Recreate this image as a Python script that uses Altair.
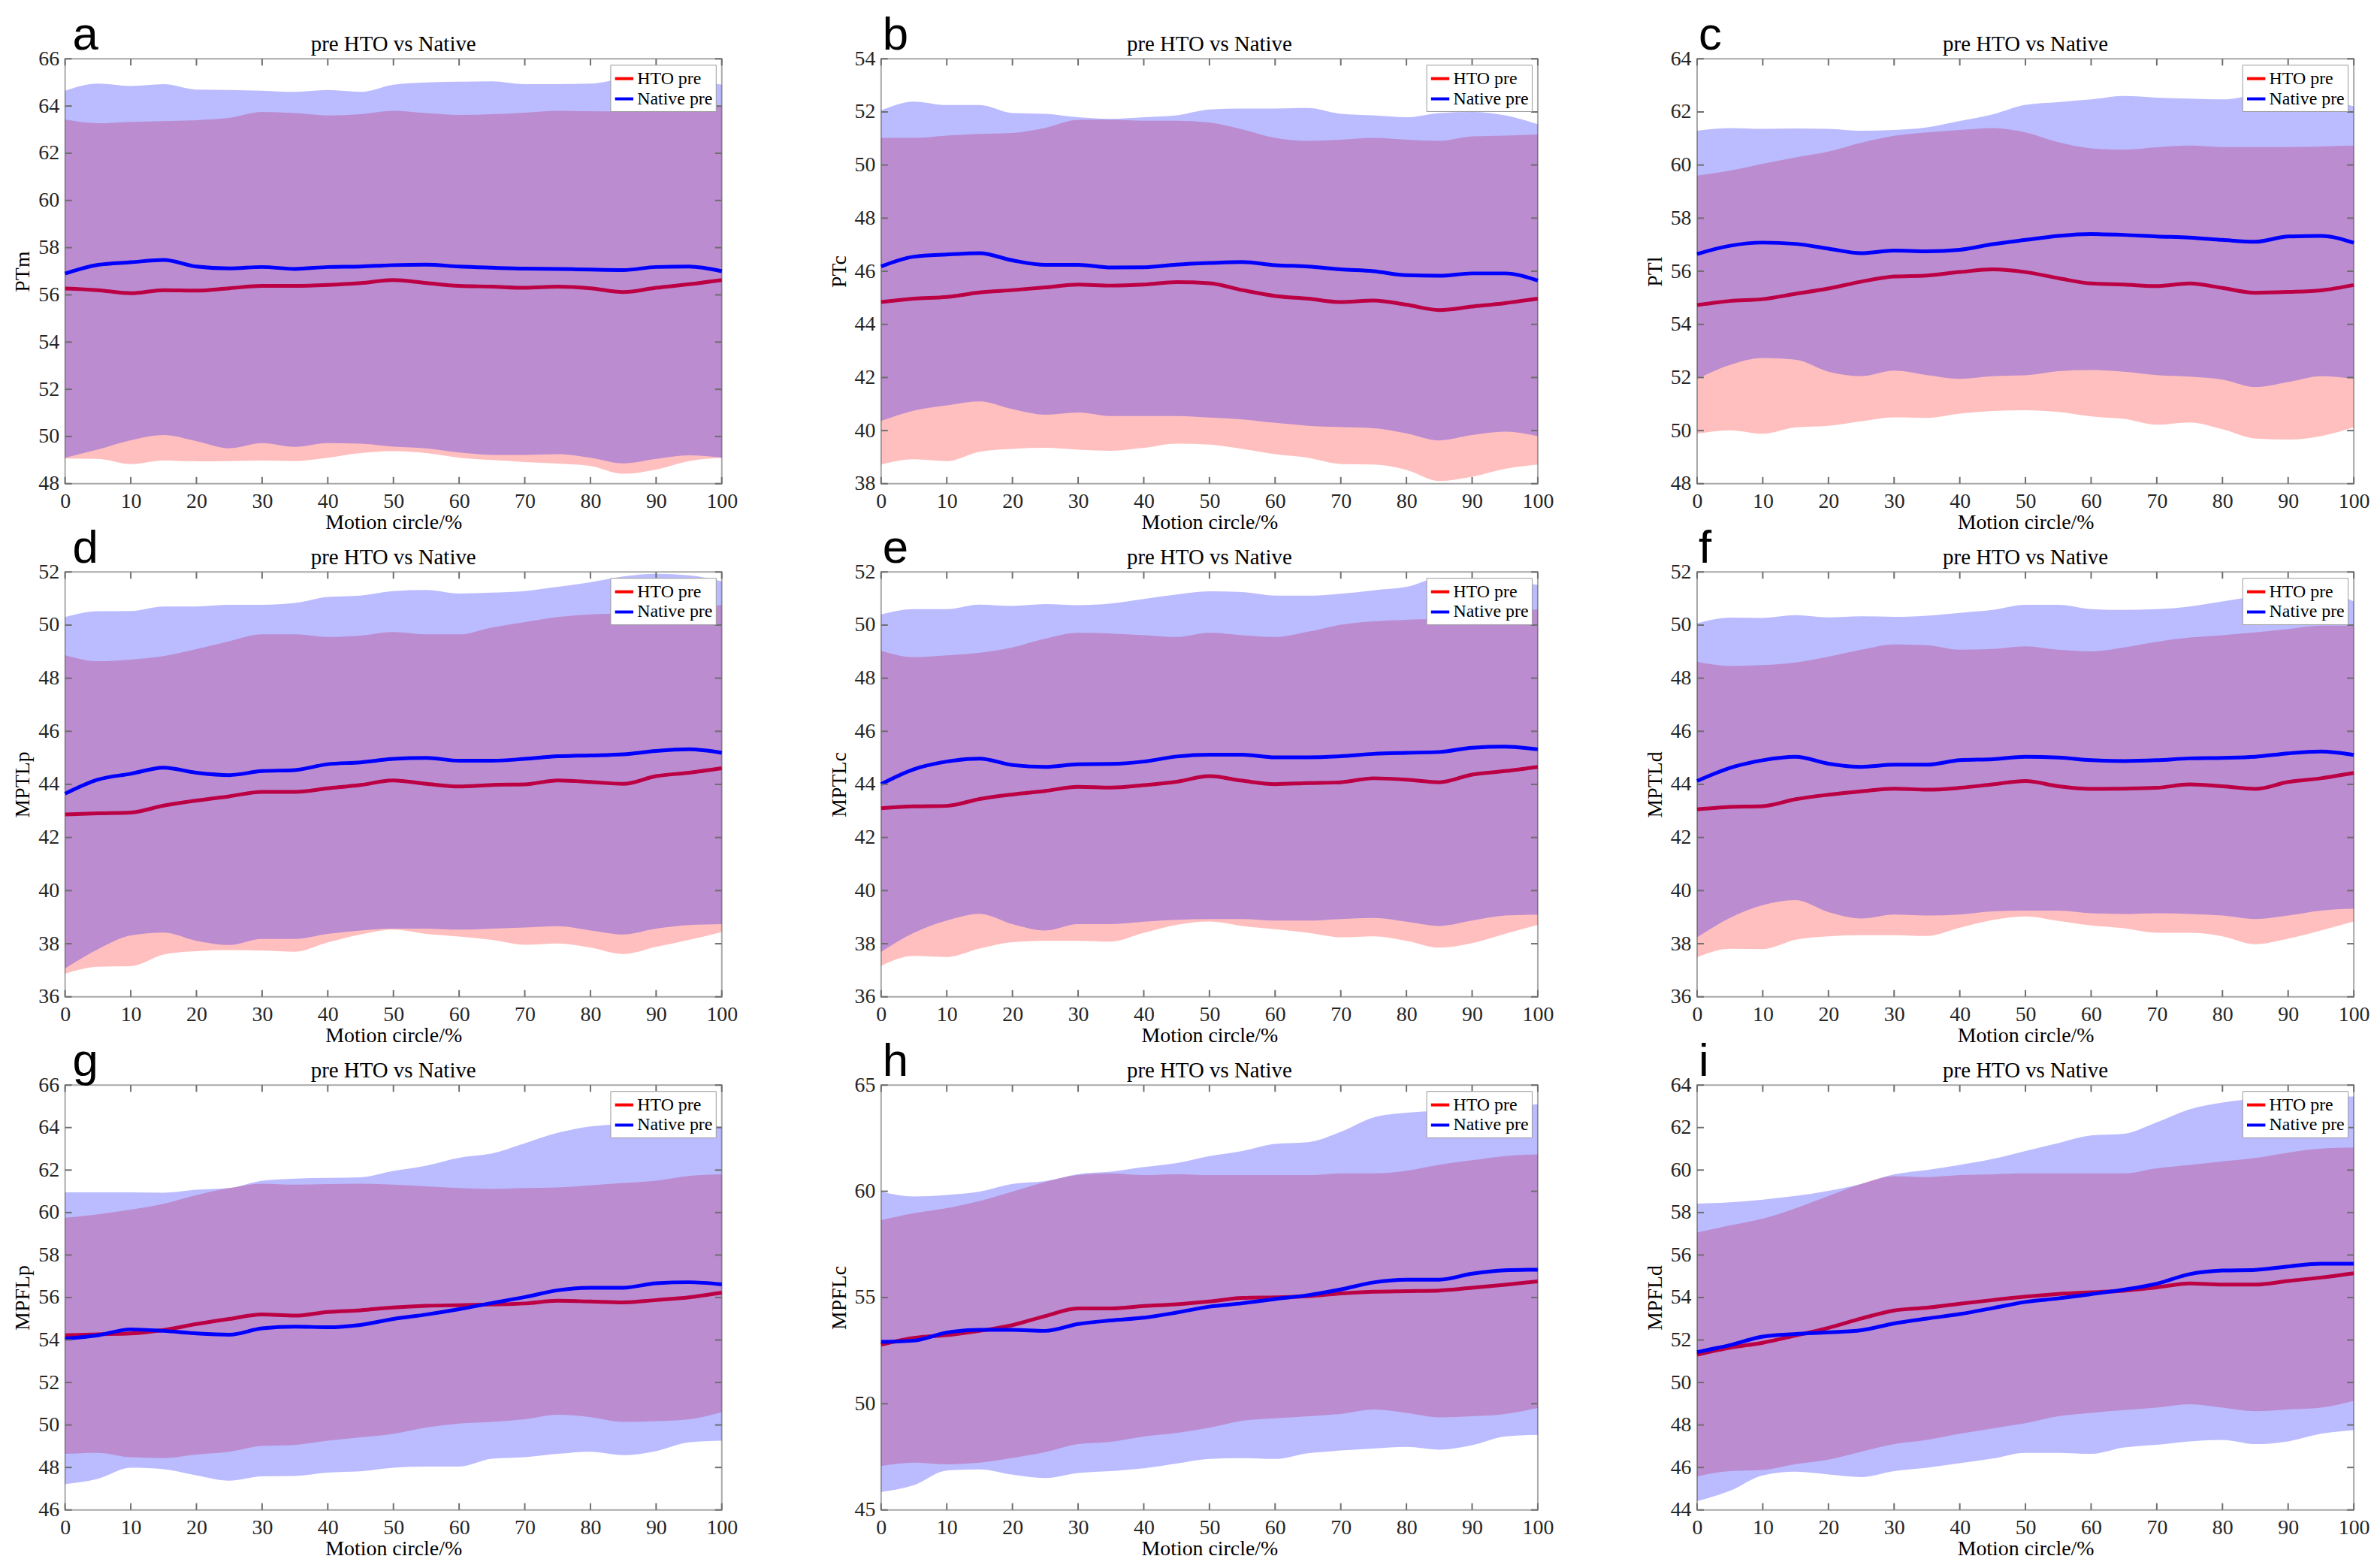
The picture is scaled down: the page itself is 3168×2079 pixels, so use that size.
import altair as alt
import pandas as pd

# ---------------- data ----------------
X = list(range(0, 101, 5))

# a : PTm
A_HTO_MEAN = [56.27,56.20,56.07,56.20,56.18,56.28,56.38,56.38,56.42,56.50,56.63,56.50,56.38,56.35,56.30,56.35,56.28,56.12,56.30,56.45,56.63]
A_HTO_LO   = [49.07,49.05,48.83,48.98,48.95,48.96,48.98,48.96,49.10,49.30,49.38,49.30,49.10,49.00,48.92,48.85,48.75,48.42,48.60,48.96,49.10]
A_HTO_UP   = [63.43,63.27,63.33,63.36,63.40,63.50,63.75,63.70,63.60,63.65,63.80,63.70,63.62,63.65,63.72,63.80,63.78,63.77,63.85,63.95,64.00]
A_NAT_MEAN = [56.90,57.27,57.38,57.48,57.20,57.12,57.18,57.10,57.18,57.20,57.26,57.28,57.20,57.15,57.11,57.10,57.07,57.05,57.18,57.20,57.00]
A_NAT_LO   = [49.10,49.45,49.84,50.06,49.80,49.50,49.72,49.56,49.72,49.70,49.57,49.50,49.32,49.22,49.22,49.25,49.10,48.86,49.05,49.20,49.10]
A_NAT_UP   = [64.65,64.95,64.85,64.93,64.70,64.68,64.65,64.60,64.68,64.60,64.90,65.00,65.03,65.05,64.93,64.93,64.95,65.15,65.20,65.10,64.90]

# b : PTc
B_HTO_MEAN = [44.84,44.97,45.03,45.20,45.29,45.39,45.50,45.46,45.50,45.59,45.55,45.29,45.07,44.97,44.84,44.90,44.74,44.54,44.67,44.80,44.97]
B_HTO_LO   = [38.72,38.92,38.85,39.20,39.31,39.35,39.28,39.24,39.35,39.51,39.47,39.31,39.11,38.98,38.74,38.72,38.52,38.10,38.26,38.56,38.72]
B_HTO_UP   = [51.02,51.02,51.11,51.17,51.21,51.40,51.70,51.71,51.67,51.67,51.60,51.34,51.02,50.91,50.95,51.02,50.95,50.91,51.08,51.11,51.15]
B_NAT_MEAN = [46.18,46.55,46.63,46.68,46.41,46.24,46.24,46.14,46.15,46.25,46.31,46.35,46.23,46.18,46.07,46.00,45.85,45.83,45.92,45.92,45.65]
B_NAT_LO   = [40.36,40.75,40.95,41.10,40.81,40.60,40.68,40.55,40.55,40.55,40.49,40.42,40.29,40.18,40.13,40.09,39.90,39.63,39.83,39.96,39.79]
B_NAT_UP   = [52.06,52.39,52.26,52.26,51.96,51.93,51.80,51.74,51.80,51.87,52.09,52.13,52.13,52.15,51.93,51.87,51.80,51.96,52.00,51.87,51.54]

# c : PTl
C_HTO_MEAN = [54.73,54.88,54.95,55.15,55.35,55.61,55.80,55.84,55.97,56.07,55.97,55.74,55.54,55.50,55.44,55.54,55.37,55.19,55.22,55.28,55.48]
C_HTO_LO   = [49.88,50.01,49.88,50.12,50.18,50.35,50.50,50.48,50.64,50.74,50.77,50.70,50.53,50.44,50.22,50.31,50.05,49.70,49.66,49.79,50.12]
C_HTO_UP   = [59.60,59.79,60.05,60.29,60.51,60.84,61.10,61.23,61.32,61.39,61.23,60.86,60.63,60.58,60.67,60.73,60.68,60.68,60.68,60.70,60.73]
C_NAT_MEAN = [56.65,56.96,57.08,57.03,56.85,56.68,56.78,56.75,56.81,57.02,57.18,57.33,57.40,57.37,57.31,57.27,57.18,57.11,57.31,57.33,57.07]
C_NAT_LO   = [51.95,52.47,52.73,52.67,52.22,52.05,52.26,52.09,51.95,52.05,52.08,52.24,52.28,52.22,52.09,52.03,51.92,51.64,51.83,52.05,51.95]
C_NAT_UP   = [61.29,61.39,61.36,61.38,61.36,61.29,61.32,61.42,61.66,61.91,62.27,62.37,62.47,62.60,62.54,62.50,62.47,62.60,62.60,62.50,62.21]

# d : MPTLp
D_HTO_MEAN = [42.87,42.91,42.94,43.20,43.39,43.55,43.72,43.72,43.85,43.98,44.15,44.02,43.92,43.98,44.00,44.15,44.09,44.02,44.31,44.44,44.61]
D_HTO_LO   = [36.87,37.13,37.15,37.59,37.72,37.76,37.74,37.70,38.05,38.35,38.53,38.37,38.27,38.14,37.96,38.01,37.85,37.61,37.88,38.14,38.44]
D_HTO_UP   = [48.87,48.64,48.70,48.83,49.09,49.39,49.65,49.65,49.55,49.60,49.74,49.65,49.65,49.91,50.11,50.30,50.40,50.44,50.47,50.57,50.76]
D_NAT_MEAN = [43.65,44.18,44.40,44.63,44.44,44.35,44.50,44.54,44.76,44.83,44.96,45.00,44.89,44.89,44.96,45.06,45.09,45.13,45.26,45.32,45.19]
D_NAT_LO   = [37.07,37.79,38.31,38.42,38.11,37.95,38.18,38.18,38.37,38.50,38.57,38.57,38.53,38.57,38.61,38.66,38.50,38.35,38.57,38.70,38.74]
D_NAT_UP   = [50.30,50.52,50.53,50.70,50.70,50.76,50.76,50.83,51.06,51.11,51.28,51.32,51.19,51.22,51.28,51.44,51.61,51.83,51.93,51.87,51.65]

# e : MPTLc
E_HTO_MEAN = [43.10,43.17,43.19,43.45,43.62,43.75,43.91,43.88,43.97,44.10,44.31,44.14,44.01,44.05,44.08,44.23,44.18,44.08,44.37,44.50,44.66]
E_HTO_LO   = [37.17,37.54,37.50,37.82,38.06,38.11,38.11,38.08,38.41,38.71,38.84,38.67,38.55,38.41,38.24,38.28,38.11,37.85,38.02,38.37,38.71]
E_HTO_UP   = [49.03,48.79,48.86,48.96,49.16,49.49,49.71,49.68,49.62,49.55,49.71,49.62,49.55,49.75,50.01,50.14,50.20,50.24,50.33,50.46,50.59]
E_NAT_MEAN = [44.01,44.57,44.86,44.97,44.73,44.66,44.76,44.77,44.86,45.05,45.12,45.12,45.02,45.02,45.06,45.15,45.19,45.22,45.38,45.42,45.32]
E_NAT_LO   = [37.69,38.41,38.87,39.13,38.74,38.50,38.74,38.74,38.83,38.90,38.93,38.93,38.87,38.87,38.93,38.97,38.83,38.67,38.87,39.06,39.10]
E_NAT_UP   = [50.40,50.60,50.60,50.77,50.72,50.79,50.75,50.81,50.98,51.15,51.27,51.24,51.11,51.11,51.18,51.31,51.44,51.77,51.77,51.65,51.51]

# f : MPTLd
F_HTO_MEAN = [43.06,43.15,43.18,43.44,43.61,43.74,43.84,43.80,43.87,44.00,44.13,43.93,43.83,43.84,43.87,44.00,43.93,43.83,44.09,44.23,44.43]
F_HTO_LO   = [37.49,37.81,37.80,38.15,38.28,38.32,38.32,38.29,38.60,38.89,39.03,38.86,38.69,38.58,38.41,38.41,38.28,37.98,38.19,38.50,38.84]
F_HTO_UP   = [48.62,48.46,48.49,48.59,48.81,49.07,49.27,49.24,49.07,49.10,49.20,49.07,49.01,49.16,49.37,49.53,49.62,49.72,49.85,49.98,49.98]
F_NAT_MEAN = [44.13,44.62,44.91,45.04,44.78,44.66,44.74,44.74,44.91,44.95,45.04,45.01,44.91,44.88,44.91,44.98,45.00,45.04,45.17,45.24,45.11]
F_NAT_LO   = [38.24,38.97,39.45,39.64,39.19,38.95,39.10,39.06,39.10,39.22,39.25,39.25,39.15,39.12,39.15,39.12,39.06,38.93,39.06,39.25,39.32]
F_NAT_UP   = [50.07,50.28,50.27,50.37,50.29,50.33,50.31,50.35,50.46,50.57,50.76,50.76,50.60,50.57,50.60,50.70,50.89,51.09,51.28,51.28,50.89]

# g : MPFLp
G_HTO_MEAN = [54.22,54.27,54.31,54.47,54.75,54.99,55.20,55.15,55.32,55.40,55.53,55.61,55.64,55.67,55.72,55.85,55.81,55.77,55.88,56.01,56.23]
G_HTO_LO   = [48.64,48.69,48.48,48.44,48.61,48.74,49.01,49.06,49.26,49.42,49.58,49.88,50.07,50.15,50.27,50.48,50.37,50.15,50.18,50.27,50.60]
G_HTO_UP   = [59.76,59.92,60.14,60.41,60.82,61.15,61.36,61.31,61.34,61.36,61.31,61.23,61.15,61.11,61.15,61.18,61.28,61.39,61.50,61.72,61.80]
G_NAT_MEAN = [54.06,54.22,54.50,54.43,54.31,54.25,54.55,54.63,54.60,54.71,54.99,55.20,55.45,55.74,56.02,56.34,56.46,56.46,56.67,56.72,56.62]
G_NAT_LO   = [47.22,47.47,47.99,47.92,47.63,47.38,47.58,47.60,47.76,47.82,47.99,48.04,48.04,48.41,48.48,48.64,48.74,48.58,48.77,49.18,49.26]
G_NAT_UP   = [60.95,60.95,60.95,60.93,61.07,61.15,61.50,61.60,61.63,61.66,61.96,62.21,62.58,62.78,63.26,63.75,64.05,64.16,64.21,64.15,64.05]

# h : MPFLc
H_HTO_MEAN = [52.78,53.10,53.23,53.43,53.70,54.13,54.49,54.49,54.60,54.68,54.81,54.98,55.01,55.06,55.19,55.27,55.30,55.33,55.46,55.60,55.76]
H_HTO_LO   = [47.07,47.23,47.15,47.23,47.45,47.72,48.10,48.21,48.46,48.62,48.87,49.20,49.31,49.41,49.52,49.73,49.57,49.36,49.41,49.52,49.80]
H_HTO_UP   = [58.64,58.97,59.21,59.54,59.99,60.44,60.76,60.84,60.76,60.81,60.76,60.76,60.76,60.76,60.84,60.84,60.97,61.25,61.46,61.66,61.74]
H_NAT_MEAN = [52.91,52.97,53.35,53.48,53.48,53.43,53.75,53.92,54.05,54.29,54.57,54.73,54.93,55.11,55.38,55.71,55.84,55.84,56.12,56.28,56.31]
H_NAT_LO   = [45.85,46.17,46.86,46.91,46.66,46.50,46.74,46.83,46.96,47.18,47.40,47.44,47.40,47.67,47.80,47.89,47.97,47.84,48.05,48.46,48.54]
H_NAT_UP   = [59.99,59.76,59.83,59.99,60.35,60.48,60.81,60.92,61.14,61.33,61.66,61.90,62.23,62.31,62.80,63.48,63.70,63.81,63.94,64.00,64.10]

# i : MPFLd
I_HTO_MEAN = [51.31,51.64,51.87,52.21,52.57,53.01,53.39,53.52,53.71,53.88,54.04,54.17,54.25,54.32,54.48,54.66,54.61,54.61,54.78,54.94,55.14]
I_HTO_LO   = [45.58,45.83,45.88,46.16,46.37,46.74,47.10,47.30,47.59,47.84,48.08,48.41,48.57,48.70,48.82,48.98,48.82,48.65,48.73,48.82,49.14]
I_HTO_UP   = [57.06,57.39,57.71,58.20,58.78,59.35,59.71,59.67,59.76,59.80,59.84,59.84,59.84,59.84,60.08,60.24,60.41,60.57,60.82,61.01,61.06]
I_NAT_MEAN = [51.43,51.76,52.16,52.28,52.36,52.46,52.78,53.01,53.22,53.50,53.79,53.96,54.16,54.37,54.65,55.10,55.27,55.30,55.46,55.59,55.59]
I_NAT_LO   = [44.41,44.90,45.63,45.80,45.67,45.55,45.83,45.99,46.20,46.42,46.69,46.69,46.64,46.94,47.07,47.23,47.30,47.10,47.23,47.59,47.76]
I_NAT_UP   = [58.42,58.48,58.61,58.78,59.02,59.35,59.80,60.00,60.24,60.52,60.90,61.27,61.63,61.71,62.25,62.86,63.18,63.35,63.43,63.45,63.46]

LETTERS = ["a", "b", "c", "d", "e", "f", "g", "h", "i"]
Y_TITLES = ["PTm", "PTc", "PTl", "MPTLp", "MPTLc", "MPTLd", "MPFLp", "MPFLc", "MPFLd"]
Y_DOMAINS = [(48, 66, 2), (38, 54, 2), (48, 64, 2), (36, 52, 2), (36, 52, 2), (36, 52, 2),
             (46, 66, 2), (45, 65, 5), (44, 64, 2)]
X_TICKS = list(range(0, 101, 10))
SERIES = ["HTO pre", "Native pre"]
PANEL_TITLE = "pre HTO vs Native"
X_TITLE = "Motion circle/%"

SERIES_DATA = [
    (A_HTO_MEAN, A_HTO_LO, A_HTO_UP, A_NAT_MEAN, A_NAT_LO, A_NAT_UP),
    (B_HTO_MEAN, B_HTO_LO, B_HTO_UP, B_NAT_MEAN, B_NAT_LO, B_NAT_UP),
    (C_HTO_MEAN, C_HTO_LO, C_HTO_UP, C_NAT_MEAN, C_NAT_LO, C_NAT_UP),
    (D_HTO_MEAN, D_HTO_LO, D_HTO_UP, D_NAT_MEAN, D_NAT_LO, D_NAT_UP),
    (E_HTO_MEAN, E_HTO_LO, E_HTO_UP, E_NAT_MEAN, E_NAT_LO, E_NAT_UP),
    (F_HTO_MEAN, F_HTO_LO, F_HTO_UP, F_NAT_MEAN, F_NAT_LO, F_NAT_UP),
    (G_HTO_MEAN, G_HTO_LO, G_HTO_UP, G_NAT_MEAN, G_NAT_LO, G_NAT_UP),
    (H_HTO_MEAN, H_HTO_LO, H_HTO_UP, H_NAT_MEAN, H_NAT_LO, H_NAT_UP),
    (I_HTO_MEAN, I_HTO_LO, I_HTO_UP, I_NAT_MEAN, I_NAT_LO, I_NAT_UP),
]

# ---------------- style ----------------
RED = "#ff0000"
BLUE = "#0000ff"
SERIF = "Liberation Serif"
W, H = 878, 568
TICK = 9
TICK_COLOR = "#6e6e6e"


def panel(idx):
    letter = LETTERS[idx]
    ymin, ymax, ystep = Y_DOMAINS[idx]
    hm, hl, hu, nm, nl, nu = SERIES_DATA[idx]
    df = pd.DataFrame({"x": X, "hm": hm, "hl": hl, "hu": hu, "nm": nm, "nl": nl, "nu": nu})
    yvals = list(range(ymin, ymax + 1, ystep))

    xs = alt.Scale(domain=[0, 100], nice=False, zero=False)
    ys = alt.Scale(domain=[ymin, ymax], nice=False, zero=False)
    xax = alt.Axis(title=X_TITLE, values=X_TICKS, ticks=False, domain=False, grid=False,
                   labelFlush=False, labelPadding=10, titlePadding=0)
    yax = alt.Axis(title=Y_TITLES[idx], values=yvals, ticks=False, domain=False, grid=False,
                   labelFlush=False, labelPadding=8, titlePadding=6)
    cscale = alt.Scale(domain=SERIES, range=[RED, BLUE])
    leg = alt.Legend(title=None, orient="top-right", offset=8, fillColor="white",
                     strokeColor="#9a9a9a", padding=4, labelFont=SERIF, labelFontSize=24,
                     labelColor="black", symbolType="stroke", symbolStrokeWidth=4,
                     symbolSize=600, rowPadding=0, labelOffset=3, labelLimit=0)

    base = alt.Chart(df)
    red_area = base.mark_area(color=RED, opacity=0.25, interpolate="monotone").encode(
        x=alt.X("x:Q", scale=xs, axis=xax),
        y=alt.Y("hl:Q", scale=ys, axis=yax),
        y2="hu:Q",
    )
    red_line = base.transform_calculate(series="'HTO pre'").mark_line(
        strokeWidth=5, interpolate="monotone").encode(
        x="x:Q", y="hm:Q",
        color=alt.Color("series:N", scale=cscale, legend=leg),
    )
    blue_area = base.mark_area(color=BLUE, opacity=0.265, interpolate="monotone").encode(
        x="x:Q", y="nl:Q", y2="nu:Q",
    )
    blue_line = base.transform_calculate(series="'Native pre'").mark_line(
        strokeWidth=5, interpolate="monotone").encode(
        x="x:Q", y="nm:Q",
        color=alt.Color("series:N", scale=cscale, legend=leg),
    )

    xt = alt.Chart(pd.DataFrame({"x": X_TICKS}))
    yt = alt.Chart(pd.DataFrame({"yt": yvals}))
    xt_top = xt.mark_rule(color=TICK_COLOR, strokeWidth=2).encode(
        x="x:Q", y=alt.value(0), y2=alt.value(TICK))
    xt_bot = xt.mark_rule(color=TICK_COLOR, strokeWidth=2).encode(
        x="x:Q", y=alt.value(H - TICK), y2=alt.value(H))
    yt_left = yt.mark_rule(color=TICK_COLOR, strokeWidth=2).encode(
        y="yt:Q", x=alt.value(0), x2=alt.value(TICK))
    yt_right = yt.mark_rule(color=TICK_COLOR, strokeWidth=2).encode(
        y="yt:Q", x=alt.value(W - TICK), x2=alt.value(W))

    lab = alt.Chart(pd.DataFrame({"t": [letter]})).mark_text(
        align="left", baseline="alphabetic", font="Liberation Sans", fontSize=62,
        color="black").encode(text="t:N", x=alt.value(10 if idx % 3 == 0 else 2), y=alt.value(-12))
    ttl = alt.Chart(pd.DataFrame({"t": [PANEL_TITLE]})).mark_text(
        align="center", baseline="alphabetic", font=SERIF, fontSize=29,
        color="black").encode(text="t:N", x=alt.value(W / 2), y=alt.value(-10))

    return alt.layer(red_area, red_line, blue_area, blue_line,
                     xt_top, xt_bot, yt_left, yt_right, lab, ttl).properties(
        width=W, height=H,
    )


panels = [panel(i) for i in range(9)]

chart = alt.concat(
    *panels, columns=3, spacing={"row": 118, "column": 213}, bounds="flush"
).resolve_scale(
    x="independent", y="independent", color="independent"
).properties(
    padding={"left": 8, "top": 3, "right": 5, "bottom": 2}
).configure_view(
    stroke="#a8a8a8", strokeWidth=2
).configure_axis(
    labelFont=SERIF, labelFontSize=28, labelColor="#262626",
    titleFont=SERIF, titleFontSize=28, titleFontWeight="normal", titleColor="black",
)

chart.save("out.html", embed_options={"renderer": "svg", "actions": False})
